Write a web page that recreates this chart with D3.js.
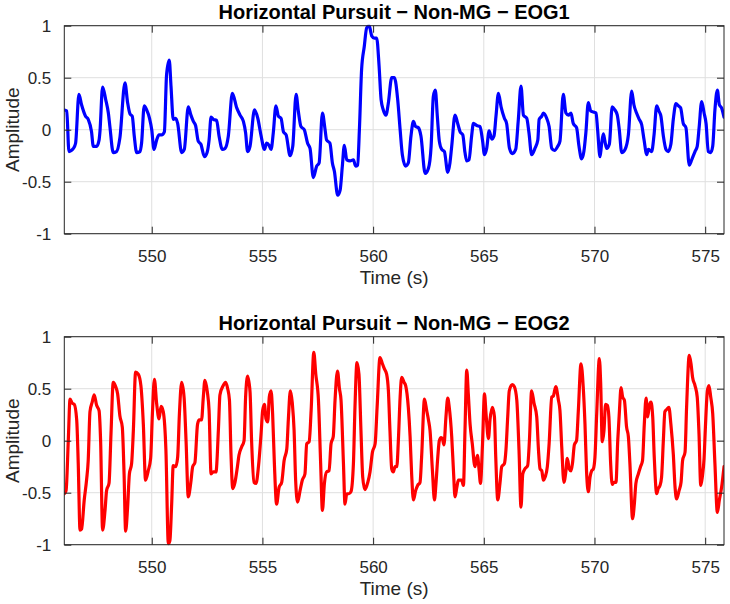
<!DOCTYPE html>
<html>
<head>
<meta charset="utf-8">
<script src="https://cdn.jsdelivr.net/npm/d3@7"></script>
<style>
  html, body { margin: 0; padding: 0; background: #fff; }
  svg { display: block; }
  text { font-family: Arial, "Liberation Sans", Helvetica, sans-serif; }
</style>
</head>
<body>
<svg id="chart" width="730" height="604"></svg>
<script>
// ---------------- data ----------------
const xDomain = [546.05, 575.85];
const yDomain = [-1, 1];
const xTicks = [550, 555, 560, 565, 570, 575];
const yTicks = [-1, -0.5, 0, 0.5, 1];
const yTickLabels = ["-1", "-0.5", "0", "0.5", "1"];
const titles = ["Horizontal Pursuit \u2212 Non-MG \u2212 EOG1", "Horizontal Pursuit \u2212 Non-MG \u2212 EOG2"];
const xLabel = "Time (s)";
const yLabel = "Amplitude";
const seriesColors = ["#0000ff", "#ff0000"];

// EOG1 : [time (s), amplitude]
const eog1 = [
[546.05,0.19],[546.16,0.18],[546.26,-0.21],[546.46,-0.18],[546.56,-0.13],[546.71,0.34],[546.83,0.24],[547.01,0.13],
[547.13,0.10],[547.28,-0.02],[547.36,-0.16],[547.51,-0.16],[547.62,-0.10],[547.66,-0.02],[547.78,0.41],[547.92,0.29],
[548.04,0.16],[548.11,0.03],[548.26,-0.22],[548.41,-0.21],[548.56,-0.08],[548.79,0.45],[548.91,0.26],[549.02,0.15],
[549.12,0.13],[549.21,-0.06],[549.32,-0.22],[549.47,-0.21],[549.54,-0.13],[549.66,0.23],[549.77,0.19],[549.90,0.11],
[550.00,0.00],[550.10,-0.19],[550.22,-0.10],[550.33,-0.05],[550.45,-0.05],[550.57,-0.02],[550.67,0.53],[550.79,0.67],
[550.87,0.42],[550.97,0.10],[551.08,0.11],[551.17,0.06],[551.35,-0.22],[551.47,-0.19],[551.65,0.22],[551.77,0.14],
[551.88,0.08],[551.98,0.04],[552.10,-0.11],[552.22,-0.14],[552.38,-0.26],[552.50,-0.22],[552.59,-0.10],[552.68,0.12],
[552.78,0.10],[552.93,0.09],[553.04,-0.06],[553.19,-0.19],[553.31,-0.18],[553.46,-0.06],[553.64,0.35],[553.84,0.21],
[553.99,0.14],[554.14,0.08],[554.24,-0.03],[554.33,-0.21],[554.44,-0.16],[554.64,0.19],[554.79,0.11],[554.94,-0.06],
[555.09,-0.19],[555.19,-0.13],[555.30,-0.15],[555.39,-0.19],[555.49,-0.03],[555.61,0.23],[555.72,0.13],[555.84,0.11],
[555.95,-0.02],[556.07,-0.05],[556.25,-0.25],[556.37,-0.16],[556.52,0.34],[556.62,0.18],[556.74,0.03],[556.89,0.00],
[557.04,-0.13],[557.15,-0.18],[557.30,-0.46],[557.45,-0.35],[557.56,-0.32],[557.71,0.16],[557.83,0.00],[557.90,-0.10],
[558.05,-0.13],[558.16,-0.32],[558.25,-0.40],[558.40,-0.63],[558.51,-0.58],[558.61,-0.35],[558.70,-0.15],[558.81,-0.29],
[558.96,-0.30],[559.11,-0.29],[559.21,-0.35],[559.30,-0.34],[559.38,0.00],[559.48,0.58],[559.60,0.80],[559.71,0.98],
[559.82,1.00],[559.94,0.90],[560.06,0.88],[560.16,0.88],[560.27,0.61],[560.36,0.29],[560.46,0.19],[560.58,0.14],
[560.69,0.26],[560.84,0.50],[560.96,0.50],[561.11,0.29],[561.22,0.00],[561.32,-0.24],[561.47,-0.35],[561.59,-0.32],
[561.71,-0.06],[561.82,0.08],[561.92,0.03],[562.04,0.02],[562.16,-0.06],[562.35,-0.42],[562.50,-0.37],[562.62,-0.16],
[562.72,0.32],[562.81,0.38],[562.90,0.13],[562.99,-0.11],[563.10,-0.19],[563.22,-0.21],[563.37,-0.41],[563.47,-0.32],
[563.55,-0.16],[563.70,0.14],[563.82,0.06],[563.93,-0.02],[564.05,-0.05],[564.15,-0.22],[564.23,-0.30],[564.33,-0.29],
[564.45,-0.06],[564.53,0.06],[564.68,0.04],[564.83,0.03],[564.94,-0.10],[565.03,-0.24],[565.13,-0.18],[565.24,-0.01],
[565.36,-0.09],[565.46,-0.06],[565.55,0.13],[565.66,0.35],[565.78,0.22],[565.93,0.11],[566.03,0.06],[566.16,-0.18],
[566.29,-0.23],[566.44,-0.19],[566.56,0.10],[566.68,0.42],[566.79,0.14],[566.94,0.11],[567.04,-0.03],[567.16,-0.24],
[567.31,-0.18],[567.44,-0.10],[567.50,0.10],[567.62,0.13],[567.69,0.16],[567.84,0.11],[567.95,0.03],[568.07,-0.18],
[568.19,-0.20],[568.34,-0.16],[568.44,-0.11],[568.59,0.34],[568.71,0.16],[568.82,0.14],[568.94,0.16],[569.04,0.06],
[569.19,0.02],[569.30,-0.16],[569.42,-0.28],[569.52,-0.21],[569.61,-0.03],[569.72,0.26],[569.83,0.18],[569.95,0.17],
[570.07,0.16],[570.14,0.00],[570.25,-0.26],[570.32,-0.14],[570.40,-0.04],[570.47,-0.11],[570.55,-0.18],[570.67,-0.14],
[570.80,0.22],[570.92,0.19],[571.03,0.14],[571.12,0.00],[571.23,-0.22],[571.38,-0.19],[571.53,-0.05],[571.68,0.37],
[571.78,0.24],[571.90,0.16],[572.02,0.10],[572.13,0.05],[572.24,-0.10],[572.36,-0.24],[572.43,-0.19],[572.58,-0.21],
[572.69,-0.05],[572.81,0.23],[572.91,0.18],[573.00,0.13],[573.11,-0.06],[573.23,-0.19],[573.33,-0.21],[573.45,-0.14],
[573.56,0.10],[573.68,0.25],[573.79,0.23],[573.89,0.21],[574.01,0.06],[574.13,0.02],[574.28,-0.34],[574.39,-0.29],
[574.54,-0.21],[574.64,-0.16],[574.73,0.03],[574.84,0.27],[574.95,0.16],[575.04,0.06],[575.14,-0.21],[575.25,-0.22],
[575.34,-0.16],[575.44,0.19],[575.55,0.38],[575.64,0.24],[575.74,0.21],[575.85,0.12]
];

// EOG2 : [time (s), amplitude]
const eog2 = [
[546.05,-0.51],[546.13,-0.48],[546.23,0.00],[546.31,0.40],[546.41,0.36],[546.50,0.35],[546.61,0.20],[546.68,-0.22],
[546.76,-0.86],[546.83,-0.85],[546.95,-0.57],[547.06,-0.37],[547.13,-0.19],[547.21,0.28],[547.31,0.37],[547.40,0.44],
[547.51,0.34],[547.62,0.29],[547.69,0.00],[547.78,-0.86],[547.89,-0.67],[547.96,-0.48],[548.07,-0.41],[548.16,0.07],
[548.26,0.56],[548.37,0.52],[548.46,0.45],[548.56,0.24],[548.67,0.13],[548.75,-0.32],[548.82,-0.87],[548.91,-0.64],
[548.99,-0.32],[549.09,-0.22],[549.17,0.10],[549.27,0.66],[549.39,0.64],[549.51,0.53],[549.62,0.16],[549.72,-0.38],
[549.84,-0.29],[549.95,-0.17],[550.03,0.26],[550.12,0.59],[550.22,0.36],[550.33,0.21],[550.42,0.33],[550.52,0.28],
[550.64,-0.09],[550.75,-0.99],[550.82,-0.96],[550.90,-0.61],[550.97,-0.24],[551.08,-0.25],[551.17,-0.16],[551.25,0.26],
[551.35,0.56],[551.46,0.42],[551.55,0.00],[551.65,-0.54],[551.76,-0.41],[551.85,-0.25],[551.95,-0.21],[552.07,0.16],
[552.15,0.20],[552.25,0.20],[552.33,0.42],[552.40,0.58],[552.51,0.47],[552.59,0.29],[552.68,-0.32],[552.78,-0.30],
[552.90,-0.30],[553.01,0.10],[553.08,0.44],[553.23,0.53],[553.34,0.56],[553.43,0.50],[553.51,0.39],[553.58,-0.13],
[553.66,-0.46],[553.76,-0.40],[553.87,-0.25],[553.94,-0.14],[554.06,-0.06],[554.17,0.00],[554.24,0.42],[554.33,0.62],
[554.44,0.47],[554.51,0.00],[554.62,-0.40],[554.71,-0.41],[554.82,-0.25],[554.94,0.07],[555.01,0.29],[555.09,0.35],
[555.16,0.21],[555.24,0.18],[555.31,0.42],[555.39,0.48],[555.46,0.26],[555.54,-0.22],[555.64,-0.61],[555.75,-0.45],
[555.87,-0.40],[555.98,-0.19],[556.10,-0.08],[556.17,0.20],[556.26,0.48],[556.35,0.36],[556.43,0.10],[556.50,-0.38],
[556.59,-0.59],[556.70,-0.48],[556.80,-0.38],[556.92,-0.32],[557.00,-0.03],[557.11,-0.01],[557.20,0.29],[557.32,0.85],
[557.41,0.64],[557.53,0.39],[557.63,-0.22],[557.71,-0.67],[557.80,-0.41],[557.90,-0.30],[558.01,-0.29],[558.10,-0.03],
[558.20,0.04],[558.28,0.39],[558.39,0.67],[558.48,0.50],[558.55,0.39],[558.66,-0.22],[558.73,-0.61],[558.81,-0.51],
[558.91,-0.51],[559.00,-0.49],[559.11,-0.22],[559.18,0.32],[559.27,0.75],[559.36,0.64],[559.45,0.10],[559.53,-0.35],
[559.63,-0.47],[559.76,-0.40],[559.86,-0.30],[559.97,-0.11],[560.09,-0.03],[560.18,0.32],[560.31,0.80],[560.42,0.74],
[560.51,0.69],[560.61,0.64],[560.69,0.48],[560.76,0.10],[560.84,-0.27],[560.91,-0.30],[560.99,-0.25],[561.07,-0.25],
[561.14,0.00],[561.22,0.42],[561.29,0.61],[561.40,0.56],[561.47,0.53],[561.59,0.32],[561.67,0.04],[561.74,-0.32],
[561.82,-0.57],[561.92,-0.48],[562.01,-0.43],[562.12,-0.40],[562.19,-0.16],[562.32,0.40],[562.42,0.29],[562.50,0.20],
[562.57,0.10],[562.68,-0.29],[562.77,-0.57],[562.84,-0.41],[562.92,-0.16],[562.99,0.00],[563.07,0.03],[563.13,0.02],
[563.20,-0.04],[563.29,0.23],[563.37,0.41],[563.44,0.32],[563.55,0.04],[563.63,-0.29],[563.70,-0.54],[563.78,-0.45],
[563.85,-0.38],[563.93,-0.38],[564.00,-0.38],[564.08,-0.43],[564.15,0.10],[564.23,0.68],[564.30,0.45],[564.38,0.16],
[564.48,-0.03],[564.60,-0.25],[564.71,-0.14],[564.79,-0.29],[564.85,-0.41],[564.94,-0.04],[565.03,0.45],[565.10,0.26],
[565.21,0.02],[565.28,0.20],[565.39,0.32],[565.48,0.23],[565.54,-0.16],[565.63,-0.57],[565.73,-0.41],[565.81,-0.25],
[565.93,-0.22],[566.00,-0.09],[566.08,0.23],[566.15,0.48],[566.29,0.54],[566.38,0.52],[566.49,0.39],[566.59,-0.09],
[566.68,-0.64],[566.76,-0.32],[566.86,-0.27],[566.98,-0.24],[567.06,0.00],[567.16,0.48],[567.27,0.36],[567.39,0.23],
[567.47,-0.09],[567.54,-0.27],[567.62,-0.29],[567.69,-0.38],[567.77,-0.35],[567.87,-0.25],[567.95,-0.03],[568.07,0.42],
[568.14,0.43],[568.25,0.52],[568.37,0.39],[568.44,0.29],[568.52,-0.06],[568.62,-0.40],[568.71,-0.29],[568.77,-0.17],
[568.86,-0.27],[568.94,-0.29],[569.01,-0.21],[569.09,-0.04],[569.19,0.00],[569.27,0.29],[569.39,0.74],[569.49,0.52],
[569.57,0.16],[569.64,-0.29],[569.72,-0.49],[569.80,-0.35],[569.87,-0.29],[569.95,-0.27],[570.02,-0.16],[570.10,0.26],
[570.22,0.79],[570.28,0.55],[570.35,-0.01],[570.43,0.10],[570.50,0.35],[570.58,0.34],[570.65,0.23],[570.73,-0.22],
[570.80,-0.42],[570.88,-0.40],[570.97,-0.40],[571.05,0.00],[571.12,0.26],[571.20,0.51],[571.27,0.42],[571.35,0.39],
[571.45,0.13],[571.53,0.04],[571.60,-0.22],[571.72,-0.75],[571.80,-0.61],[571.87,-0.41],[571.98,-0.32],[572.08,-0.25],
[572.17,-0.19],[572.25,0.16],[572.33,0.41],[572.40,0.23],[572.48,0.34],[572.55,0.37],[572.63,0.23],[572.70,-0.16],
[572.81,-0.51],[572.88,-0.46],[572.96,-0.43],[573.03,-0.35],[573.11,0.00],[573.18,0.28],[573.26,0.30],[573.36,0.32],
[573.45,0.16],[573.56,-0.13],[573.64,-0.45],[573.71,-0.56],[573.82,-0.48],[573.91,-0.40],[573.98,-0.19],[574.09,-0.11],
[574.16,0.32],[574.28,0.82],[574.36,0.74],[574.43,0.61],[574.54,0.53],[574.64,0.42],[574.72,0.07],[574.80,-0.43],
[574.87,-0.35],[574.95,-0.17],[575.01,0.13],[575.10,0.48],[575.17,0.53],[575.25,0.42],[575.34,0.26],[575.44,-0.22],
[575.55,-0.69],[575.64,-0.57],[575.74,-0.45],[575.85,-0.25]
];

const seriesList = [eog1, eog2];

// ---------------- layout ----------------
const svg = d3.select("#chart");
const left = 64.3, right = 724;
const panelTops = [25.7, 336.7];
const panelHeight = 208;
const tickLen = 7;
const axisColor = "#262626";

const x = d3.scaleLinear().domain(xDomain).range([left, right]);

seriesList.forEach((data, i) => {
  const top = panelTops[i], bottom = top + panelHeight;
  const y = d3.scaleLinear().domain(yDomain).range([bottom, top]);
  const g = svg.append("g");

  // grid
  g.append("g").selectAll("line").data(xTicks).join("line")
    .attr("x1", d => x(d)).attr("x2", d => x(d)).attr("y1", top).attr("y2", bottom)
    .attr("stroke", "#dfdfdf").attr("stroke-width", 1);
  g.append("g").selectAll("line").data(yTicks).join("line")
    .attr("x1", left).attr("x2", right).attr("y1", d => y(d)).attr("y2", d => y(d))
    .attr("stroke", "#dfdfdf").attr("stroke-width", 1);

  // clip
  const clipId = "clip" + i;
  svg.append("defs").append("clipPath").attr("id", clipId)
    .append("rect").attr("x", left).attr("y", top - 1).attr("width", right - left).attr("height", panelHeight + 2);

  // line
  const line = d3.line().x(d => x(d[0])).y(d => y(d[1])).curve(d3.curveMonotoneX);
  g.append("path").datum(data)
    .attr("clip-path", `url(#${clipId})`)
    .attr("d", line)
    .attr("fill", "none")
    .attr("stroke", seriesColors[i])
    .attr("stroke-width", 3.2)
    .attr("stroke-linejoin", "round")
    .attr("stroke-linecap", "round");

  // axes (inside ticks, MATLAB box)
  const xAxisB = d3.axisBottom(x).tickValues(xTicks).tickSize(-tickLen).tickPadding(tickLen + 9).tickFormat(d3.format("d"));
  const xAxisT = d3.axisTop(x).tickValues(xTicks).tickSize(-tickLen).tickFormat("");
  const yAxisL = d3.axisLeft(y).tickValues(yTicks).tickSize(-tickLen).tickPadding(tickLen + 6)
    .tickFormat(d => yTickLabels[yTicks.indexOf(d)]);
  const yAxisR = d3.axisRight(y).tickValues(yTicks).tickSize(-tickLen).tickFormat("");

  const styleAxis = sel => {
    sel.select(".domain").remove();
    sel.selectAll(".tick line").attr("stroke", axisColor).attr("stroke-width", 1);
    sel.selectAll(".tick text").attr("fill", axisColor).style("font-size", "17px")
      .style("font-family", "Arial, 'Liberation Sans', sans-serif");
  };
  g.append("g").attr("transform", `translate(0,${bottom})`).call(xAxisB).call(styleAxis);
  g.append("g").attr("transform", `translate(0,${top})`).call(xAxisT).call(styleAxis);
  g.append("g").attr("transform", `translate(${left},0)`).call(yAxisL).call(styleAxis);
  g.append("g").attr("transform", `translate(${right},0)`).call(yAxisR).call(styleAxis);
  g.append("rect").attr("x", left).attr("y", top).attr("width", right - left).attr("height", panelHeight)
    .attr("fill", "none").attr("stroke", axisColor).attr("stroke-width", 1);

  // title
  g.append("text").attr("x", (left + right) / 2).attr("y", top - 7)
    .attr("text-anchor", "middle").attr("fill", "#000")
    .style("font-size", "20px").style("font-weight", "bold")
    .text(titles[i]);

  // x label
  g.append("text").attr("x", (left + right) / 2).attr("y", bottom + 50)
    .attr("text-anchor", "middle").attr("fill", axisColor)
    .style("font-size", "19px").text(xLabel);

  // y label
  g.append("text")
    .attr("transform", `translate(19,${(top + bottom) / 2}) rotate(-90)`)
    .attr("text-anchor", "middle").attr("fill", axisColor)
    .style("font-size", "19px").text(yLabel);
});
</script>
</body>
</html>
